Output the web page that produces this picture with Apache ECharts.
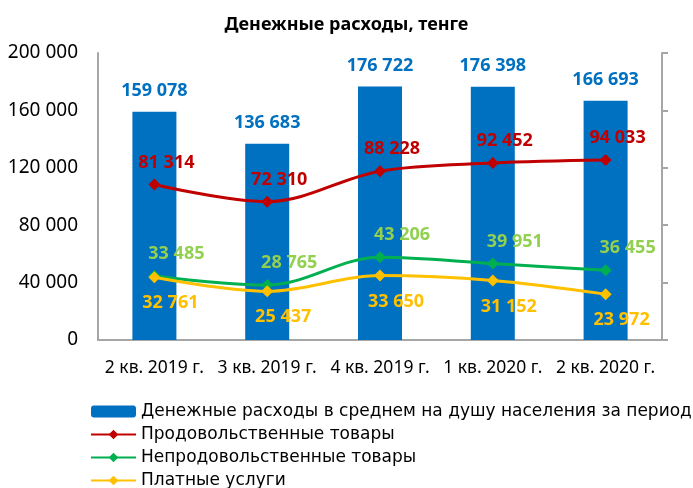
<!DOCTYPE html>
<html>
<head>
<meta charset="utf-8">
<script src="https://cdn.jsdelivr.net/npm/echarts@6/dist/echarts.min.js"></script>
<style>
  html, body { margin: 0; padding: 0; background: #fff; }
  #chart { width: 693px; height: 488px; }
</style>
</head>
<body>
<div id="chart"></div>
<script>
// данные с картинки
const categories = ['2 кв. 2019 г.', '3 кв. 2019 г.', '4 кв. 2019 г.', '1 кв. 2020 г.', '2 кв. 2020 г.'];
const totalSpend = [159078, 136683, 176722, 176398, 166693];
const foodGoods = [81314, 72310, 88228, 92452, 94033];
const nonFoodGoods = [33485, 28765, 43206, 39951, 36455];
const paidServices = [32761, 25437, 33650, 31152, 23972];
const leftTicks = [0, 40000, 80000, 120000, 160000, 200000];

const FONT = '"Noto Sans", "Open Sans", sans-serif';
const fmt = (v) => String(v).replace(/\B(?=(\d{3})+(?!\d))/g, ' ');

const chart = echarts.init(document.getElementById('chart'), null, { renderer: 'canvas' });

function lineSeries(name, data, color, labelColor, pos, dist, dx) {
  return {
    name: name,
    type: 'line',
    yAxisIndex: 1,
    data: data,
    smooth: 0.35,
    symbol: 'diamond',
    symbolSize: 12,
    lineStyle: { color: color, width: 3 },
    itemStyle: { color: color },
    label: {
      show: true,
      position: pos,
      distance: dist,
      offset: [dx, 0],
      color: labelColor,
      fontFamily: FONT,
      fontWeight: 'bold',
      fontSize: 18,
      formatter: (p) => fmt(p.value),
    },
    z: 3,
  };
}

const option = {
  animation: false,
  textStyle: { fontFamily: FONT },
  title: {
    text: 'Денежные расходы, тенге',
    left: 'center',
    top: 11,
    textStyle: { fontFamily: FONT, fontWeight: 'bold', fontSize: 18, color: '#000' },
  },
  legend: {
    orient: 'vertical',
    left: 85,
    top: 398,
    height: 140,
    itemWidth: 45,
    itemHeight: 12,
    itemGap: 6,
    textStyle: { fontFamily: '"DejaVu Sans", sans-serif', fontSize: 17, color: '#000' },
    data: [
      'Денежные расходы в среднем на душу населения за период',
      'Продовольственные товары',
      'Непродовольственные товары',
      'Платные услуги',
    ],
  },
  grid: { left: 98, right: 31, top: 53, bottom: 148 },
  xAxis: {
    type: 'category',
    data: categories,
    axisLine: { show: true, lineStyle: { color: '#a6a6a6', width: 2 } },
    axisTick: { show: false },
    axisLabel: { color: '#000', fontSize: 17.5, fontFamily: FONT, margin: 19, interval: 0 },
  },
  yAxis: [
    {
      type: 'value',
      min: leftTicks[0],
      max: leftTicks[leftTicks.length - 1],
      interval: 40000,
      axisLine: { show: true, lineStyle: { color: '#a6a6a6', width: 2 } },
      axisTick: { show: false },
      splitLine: { show: false },
      axisLabel: { color: '#000', fontSize: 19, fontFamily: FONT, margin: 20, formatter: fmt },
    },
    {
      type: 'value',
      min: 0,
      max: 150000,
      interval: 30000,
      position: 'right',
      axisLine: { show: true, lineStyle: { color: '#a6a6a6', width: 2 } },
      axisTick: { show: true, inside: false, length: 6, lineStyle: { color: '#a6a6a6', width: 2 } },
      splitLine: { show: false },
      axisLabel: { show: false },
    },
  ],
  series: [
    {
      name: 'Денежные расходы в среднем на душу населения за период',
      type: 'bar',
      data: totalSpend,
      barWidth: 44,
      itemStyle: { color: '#0070c0' },
      label: {
        show: true,
        position: 'top',
        distance: 12,
        color: '#0070c0',
        fontFamily: FONT,
        fontWeight: 'bold',
        fontSize: 18,
        formatter: (p) => fmt(p.value),
      },
      z: 2,
    },
    lineSeries('Продовольственные товары', foodGoods, '#c00000', '#c00000', 'top', 7, 12),
    lineSeries('Непродовольственные товары', nonFoodGoods, '#00b050', '#92d050', 'top', 7, 22),
    lineSeries('Платные услуги', paidServices, '#ffc000', '#ffc000', 'bottom', 11, 16),
  ],
};

chart.setOption(option, true);
</script>
</body>
</html>
